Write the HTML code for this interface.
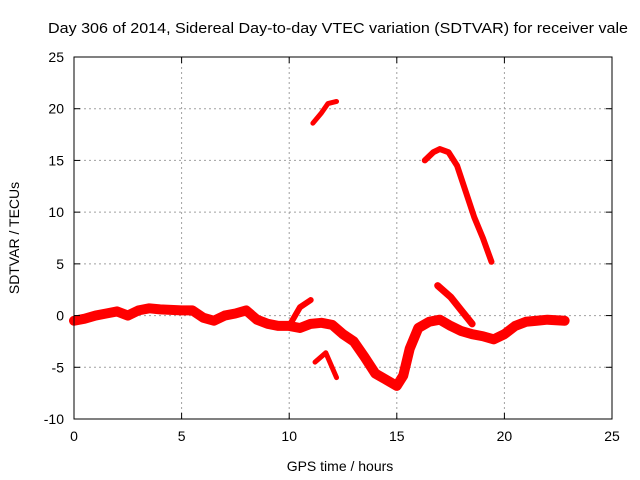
<!DOCTYPE html>
<html><head><meta charset="utf-8"><style>
body{margin:0;background:#fff}
svg{display:block;font-family:"Liberation Sans",sans-serif}
</style></head><body>
<svg id="chart" width="640" height="480" xmlns="http://www.w3.org/2000/svg">
<rect width="640" height="480" fill="#fff"/>
<text x="48" y="33" font-size="15" textLength="580" lengthAdjust="spacingAndGlyphs">Day 306 of 2014, Sidereal Day-to-day VTEC variation (SDTVAR) for receiver vale</text>
<g id="grid"></g>
<g id="series"></g>
<g id="axes"></g>
<text x="340" y="471" font-size="14" text-anchor="middle">GPS time / hours</text>
<text x="19" y="238" font-size="14" text-anchor="middle" transform="rotate(-90 19 238)">SDTVAR / TECUs</text>
</svg>
<script>
const xTicks=[0,5,10,15,20,25];
const yTicks=[-10,-5,0,5,10,15,20,25];
const mainT=[0,0.5,1,1.5,2,2.5,3,3.5,4,5,5.5,6,6.5,7,7.5,8,8.5,9,9.5,10,10.5,11,11.5,12,12.5,13,13.5,14,14.5,15,15.3,15.6,16,16.5,17,17.5,18,18.5,19,19.5,20,20.5,21,21.5,22,22.8];
const mainV=[-0.5,-0.3,0,0.2,0.4,0,0.5,0.7,0.6,0.5,0.5,-0.2,-0.5,0,0.2,0.5,-0.4,-0.8,-1,-1,-1.2,-0.8,-0.7,-0.9,-1.8,-2.5,-4,-5.6,-6.2,-6.8,-5.8,-3.2,-1.2,-0.6,-0.4,-1,-1.5,-1.8,-2,-2.3,-1.8,-1,-0.6,-0.5,-0.4,-0.5];
const riseT=[10,10.5,11];
const riseV=[-1,0.8,1.5];
const dipT=[11.2,11.7,12.2];
const dipV=[-4.5,-3.6,-6];
const branchT=[16.9,17.5,18,18.5];
const branchV=[2.9,1.8,0.5,-0.8];
const upperT=[11.1,11.5,11.8,12.2];
const upperV=[18.6,19.6,20.5,20.7];
const arcT=[16.3,16.7,17,17.4,17.8,18.2,18.6,19,19.4];
const arcV=[15,15.8,16.1,15.8,14.5,12,9.5,7.5,5.2];

const L=74,R=612,T=57,B=419,ns="http://www.w3.org/2000/svg";
const xs=t=>L+(t-0)/25*(R-L);
const ys=v=>B-(v+10)/35*(B-T);
const grid=document.getElementById('grid'),axes=document.getElementById('axes'),ser=document.getElementById('series');
function mk(tag,a,p){const e=document.createElementNS(ns,tag);for(const k in a)e.setAttribute(k,a[k]);p.appendChild(e);return e;}
xTicks.forEach(t=>{
 const x=xs(t);
 if(t>0&&t<25){const g=mk('line',{x1:x,x2:x,y1:T,y2:B,stroke:'#a0a0a0','stroke-dasharray':'2,3'},grid);
 
 }
 mk('line',{x1:x,x2:x,y1:B,y2:B-6,stroke:'#000'},axes);
 mk('line',{x1:x,x2:x,y1:T,y2:T+6,stroke:'#000'},axes);
 const tx=mk('text',{x:x,y:B+22,'font-size':14,'text-anchor':'middle'},axes);tx.textContent=t;
 
 
});
yTicks.forEach(v=>{
 const y=ys(v);
 if(v>-10&&v<25){const g=mk('line',{x1:L,x2:R,y1:y,y2:y,stroke:'#a0a0a0','stroke-dasharray':'2,3'},grid);
 
 }
 mk('line',{x1:L,x2:L+6,y1:y,y2:y,stroke:'#000'},axes);
 mk('line',{x1:R,x2:R-6,y1:y,y2:y,stroke:'#000'},axes);
 const tx=mk('text',{x:L-10,y:y+5,'font-size':14,'text-anchor':'end'},axes);tx.textContent=v;
 
 
});
const fr=mk('rect',{x:L,y:T,width:R-L,height:B-T,fill:'none',stroke:'#000'},axes);


function series(ts,vs,w,name){
 const p=mk('polyline',{points:ts.map((t,i)=>xs(t)+','+ys(vs[i])).join(' '),fill:'none',stroke:'#ff0000','stroke-width':w,'stroke-linejoin':'round','stroke-linecap':'round'},ser);
 
 
}
series(mainT,mainV,10,'sdtvar-main-series');
series(riseT,riseV,6,'sdtvar-rise-segment');
series(dipT,dipV,5,'sdtvar-dip-segment');
series(branchT,branchV,7,'sdtvar-branch-segment');
series(upperT,upperV,5,'sdtvar-upper-segment');
series(arcT,arcV,6,'sdtvar-arc-segment');
</script>
</body></html>
